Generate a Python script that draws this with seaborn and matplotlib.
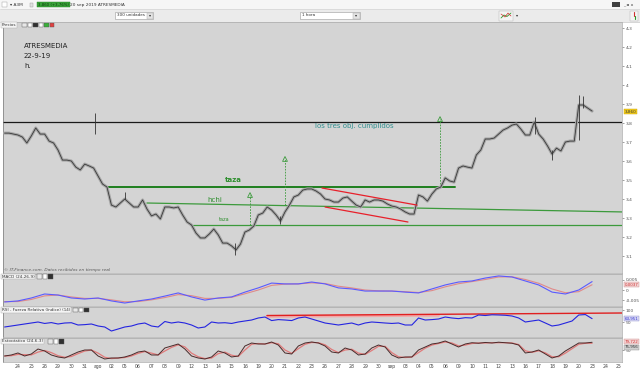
import numpy as np
import matplotlib
matplotlib.use("Agg")
import matplotlib.pyplot as plt
import seaborn as sns
from matplotlib.patches import Rectangle
from matplotlib.ticker import FuncFormatter

# --- datos ---
# cierres horarios muestreados cada 1/3 de sesion, empezando en la sesion -1 (23 jul)
close = [3.747, 3.747, 3.742, 3.737, 3.726, 3.695, 3.732, 3.774, 3.742, 3.742,
         3.705, 3.695, 3.658, 3.605, 3.605, 3.600, 3.568, 3.553, 3.584, 3.574,
         3.563, 3.521, 3.479, 3.463, 3.368, 3.358, 3.379, 3.400, 3.379, 3.358,
         3.358, 3.395, 3.347, 3.311, 3.321, 3.295, 3.358, 3.358, 3.353, 3.358,
         3.316, 3.279, 3.263, 3.221, 3.195, 3.195, 3.216, 3.242, 3.211, 3.168,
         3.168, 3.153, 3.132, 3.163, 3.226, 3.237, 3.258, 3.316, 3.326, 3.358,
         3.342, 3.316, 3.284, 3.332, 3.368, 3.411, 3.421, 3.447, 3.453, 3.453,
         3.442, 3.426, 3.400, 3.395, 3.384, 3.384, 3.405, 3.411, 3.389, 3.368,
         3.358, 3.395, 3.384, 3.395, 3.395, 3.389, 3.374, 3.363, 3.358, 3.347,
         3.332, 3.321, 3.321, 3.421, 3.411, 3.389, 3.426, 3.453, 3.463, 3.511,
         3.495, 3.489, 3.563, 3.574, 3.568, 3.563, 3.632, 3.658, 3.716, 3.716,
         3.721, 3.742, 3.763, 3.774, 3.789, 3.795, 3.768, 3.737, 3.737, 3.805,
         3.742, 3.716, 3.679, 3.637, 3.668, 3.653, 3.700, 3.705, 3.705, 3.895,
         3.895, 3.879, 3.863]

# mechas destacadas (sesion, minimo, maximo)
wick_t = [5.77, 8.0, 16.25, 19.6, 38.73, 40.0, 42.0, 42.3]
wick_lo = [3.74, 3.40, 3.105, 3.27, 3.74, 3.605, 3.71, 3.88]
wick_hi = [3.853, 3.437, 3.17, 3.31, 3.832, 3.66, 3.947, 3.942]

# lineas dibujadas por el autor: (inicio, fin, valor inicio, valor fin)
resistencia = 3.805
taza_sup = (6.67, 32.73, 3.463, 3.463)
hchi = (9.66, 45.24, 3.379, 3.332)
taza_inf = (13.11, 45.24, 3.261, 3.261)
canal_sup = (22.77, 29.89, 3.458, 3.368)
canal_inf = (23.0, 29.21, 3.358, 3.279)

# objetivos (flechas verdes)
obj_t = [17.38, 20.0, 31.61]
obj_lo = [3.261, 3.368, 3.463]
obj_hi = [3.421, 3.611, 3.821]

precio_actual = 3.860

# MACD (24-26-9), una muestra por sesion
macd = [-0.0057, -0.0052, -0.0038, -0.0019, -0.0024, -0.0038, -0.0043, -0.0038, -0.0052, -0.0062,
        -0.0052, -0.0043, -0.0029, -0.0014, -0.0033, -0.0048, -0.0038, -0.0033, -0.0010, 0.0010,
        0.0033, 0.0029, 0.0029, 0.0038, 0.0029, 0.0010, 0.0005, -0.0005, -0.0005, -0.0005,
        -0.0010, -0.0014, 0.0005, 0.0024, 0.0038, 0.0043, 0.0057, 0.0067, 0.0062, 0.0043,
        0.0024, -0.0010, -0.0019, 0.0000, 0.0040]
senal = [-0.0055, -0.0055, -0.0045, -0.0028, -0.0024, -0.0033, -0.0040, -0.0040, -0.0047, -0.0056,
         -0.0055, -0.0047, -0.0036, -0.0022, -0.0027, -0.0040, -0.0040, -0.0035, -0.0018, 0.0000,
         0.0022, 0.0028, 0.0029, 0.0034, 0.0031, 0.0018, 0.0010, 0.0000, -0.0004, -0.0005,
         -0.0008, -0.0012, -0.0003, 0.0015, 0.0030, 0.0040, 0.0050, 0.0062, 0.0063, 0.0050,
         0.0032, 0.0005, -0.0013, -0.0008, 0.0025]

# RSI (14) y estocastico (24-6-3), dos muestras por sesion
rsi = [29.2, 33.3, 37.5, 41.7, 45.8, 50.0, 44.0, 47.5, 41.7, 45.8,
       47.0, 37.5, 39.0, 41.7, 33.3, 29.2, 12.5, 20.8, 29.2, 33.3,
       41.7, 45.8, 33.3, 29.2, 52.0, 45.8, 50.0, 45.8, 37.5, 25.0,
       29.2, 50.0, 45.8, 47.0, 44.0, 50.0, 54.2, 58.3, 66.7, 70.8,
       56.0, 60.0, 58.3, 56.0, 66.7, 70.8, 62.5, 54.2, 45.8, 41.7,
       37.5, 41.7, 45.8, 37.5, 45.8, 50.0, 48.0, 45.8, 44.0, 45.8,
       37.5, 37.5, 66.7, 58.3, 60.0, 62.5, 70.8, 66.7, 64.0, 68.0,
       66.7, 79.2, 77.0, 80.0, 79.2, 78.0, 75.0, 66.7, 50.0, 54.2,
       58.3, 45.8, 33.3, 37.5, 45.8, 54.2, 79.2, 81.0, 63.951]
rsi_tend = (18.65, 45.24, 77.0, 87.5)
rsi_banda = (18.65, 31.5, 73.0, 78.0)

estoc_k = [26.9, 30.8, 38.5, 26.9, 34.6, 53.8, 46.2, 30.8, 23.1, 19.2,
           30.8, 42.3, 50.0, 50.0, 26.9, 15.4, 19.2, 19.2, 23.1, 30.8,
           42.3, 46.2, 30.8, 30.8, 57.7, 65.4, 73.1, 53.8, 26.9, 19.2,
           15.4, 23.1, 46.2, 38.5, 23.1, 26.9, 65.4, 76.9, 73.1, 73.1,
           80.8, 69.2, 38.5, 34.6, 65.4, 76.9, 80.8, 76.9, 65.4, 42.3,
           38.5, 57.7, 50.0, 30.8, 34.6, 57.7, 69.2, 61.5, 30.8, 19.2,
           23.1, 23.1, 50.0, 61.5, 73.1, 76.9, 84.6, 73.1, 61.5, 73.1,
           78.0, 76.0, 79.0, 77.0, 80.0, 78.0, 76.0, 69.2, 38.5, 42.3,
           50.0, 34.6, 19.2, 26.9, 46.2, 61.5, 76.9, 76.9, 79.722]
estoc_d = [27.0, 28.0, 33.0, 32.0, 31.0, 42.0, 48.0, 40.0, 28.0, 22.0,
           25.0, 36.0, 46.0, 50.0, 38.0, 22.0, 17.0, 19.0, 21.0, 27.0,
           37.0, 44.0, 38.0, 31.0, 46.0, 60.0, 70.0, 62.0, 38.0, 24.0,
           17.0, 19.0, 36.0, 42.0, 30.0, 25.0, 50.0, 72.0, 75.0, 73.0,
           78.0, 74.0, 50.0, 37.0, 55.0, 72.0, 79.0, 78.0, 70.0, 52.0,
           40.0, 50.0, 53.0, 38.0, 33.0, 48.0, 64.0, 64.0, 40.0, 24.0,
           21.0, 23.0, 40.0, 57.0, 69.0, 75.0, 81.0, 77.0, 66.0, 69.0,
           75.0, 77.0, 77.0, 78.0, 78.0, 78.0, 77.0, 71.0, 47.0, 41.0,
           47.0, 39.0, 24.0, 24.0, 38.0, 55.0, 72.0, 76.0, 75.956]

dias = ['24', '25', '26', '29', '30', '31', 'ago', '02', '05', '06', '07', '08', '09',
        '12', '13', '14', '15', '16', '19', '20', '21', '22', '23', '26', '27', '28',
        '29', '30', 'sep', '03', '04', '05', '06', '09', '10', '11', '12', '13', '16',
        '17', '18', '19', '20', '23', '24', '25']

# posiciones en sesiones
t_precio = np.arange(len(close)) / 3 - 1
t_macd = np.arange(len(macd)) - 1
t_osc = np.arange(len(rsi)) / 2 - 1

# --- estilo ---
sns.set_theme(style="white")
plt.rcParams['font.family'] = ['DejaVu Sans']

GRIS = '#d4d4d4'
VERDE = '#2f8f2f'
W, H = 640, 370
XLIM = (-1.12, 45.24)


def caja(x0, y0, x1, y1):
    return [x0 / W, 1 - y1 / H, (x1 - x0) / W, (y1 - y0) / H]


def coma(v, pos=None):
    return f'{v:g}'.replace('.', ',')


fig = plt.figure(figsize=(6.4, 3.7), dpi=100, facecolor='white')

ax = fig.add_axes(caja(3, 22, 622, 273))
ax_macd = fig.add_axes(caja(3, 274, 622, 306))
ax_rsi = fig.add_axes(caja(3, 307, 622, 337))
ax_est = fig.add_axes(caja(3, 338, 622, 362))

for a in (ax, ax_macd, ax_rsi, ax_est):
    a.set_facecolor(GRIS)
    a.set_xlim(*XLIM)
    a.yaxis.tick_right()
    a.tick_params(axis='y', length=1.5, width=0.4, labelsize=3.2, pad=1, colors='#555555')
    a.tick_params(axis='x', length=0, labelsize=3.3, pad=1.5, colors='#444444')
    a.set_xticks([])
    for s in a.spines.values():
        s.set_color('#a8a8a8')
        s.set_linewidth(0.5)
    a.spines['left'].set_color('#777777')
    a.set_xlabel('')
    a.set_ylabel('')

# --- panel de precios ---
ax.set_ylim(3.0105, 4.332)
ax.set_yticks(np.round(np.arange(3.1, 4.35, 0.1), 1))
ax.yaxis.set_major_formatter(FuncFormatter(coma))

ax.axhline(resistencia, color='#1a1a1a', lw=0.9, zorder=2)
for (t0, t1, v0, v1), lw, col in [(taza_sup, 1.4, '#1f7f1f'), (hchi, 0.9, '#3c9a3c'),
                                  (taza_inf, 0.9, '#3c9a3c')]:
    ax.plot([t0, t1], [v0, v1], color=col, lw=lw, zorder=2)
for t0, t1, v0, v1 in (canal_sup, canal_inf):
    ax.plot([t0, t1], [v0, v1], color='#e8202a', lw=0.9, zorder=4)

ax.vlines(obj_t, obj_lo, obj_hi, colors='#3c9a3c', lw=0.6, linestyles=(0, (2, 1.5)), zorder=2)
ax.scatter(obj_t, obj_hi, marker='^', s=12, facecolors='none', edgecolors='#3c9a3c',
           linewidths=0.6, zorder=3)

sns.lineplot(x=t_precio, y=close, ax=ax, color='#a6a6a6', linewidth=2.2, sort=False,
             estimator=None, zorder=3)
sns.lineplot(x=t_precio, y=close, ax=ax, color='#383838', linewidth=0.6, sort=False,
             estimator=None, zorder=3)
ax.vlines(wick_t, wick_lo, wick_hi, colors='#333333', lw=0.6, zorder=3)

ax.text(0.45, 4.205, 'ATRESMEDIA', fontsize=5, color='#222222', va='center')
ax.text(0.45, 4.153, '22-9-19', fontsize=5, color='#222222', va='center')
ax.text(0.45, 4.100, 'h.', fontsize=5, color='#222222', va='center')
ax.text(25.2, 3.787, 'los tres obj. cumplidos', fontsize=5, color='#2f8f8f',
        ha='center', va='center')
ax.text(16.1, 3.50, 'taza', fontsize=5, color=VERDE, ha='center', va='center', fontweight='bold')
ax.text(14.72, 3.395, 'hchi', fontsize=5, color=VERDE, ha='center', va='center')
ax.text(15.43, 3.29, 'taza', fontsize=3.6, color=VERDE, ha='center', va='center')

ax.text(1.004, precio_actual, coma(precio_actual) + '0', transform=ax.get_yaxis_transform(),
        fontsize=3.0, color='#333333', va='center', ha='left',
        bbox=dict(boxstyle='square,pad=0.15', fc='#f2cc1e', ec='#c8a000', lw=0.3))
ax.text(0.001, 0.005, '© IT-Finance.com. Datos recibidos en tiempo real', transform=ax.transAxes,
        fontsize=3.1, color='#555555', style='italic', va='bottom')

# --- MACD ---
ax_macd.set_ylim(-0.00762, 0.00762)
ax_macd.set_yticks([-0.005, 0, 0.005])
ax_macd.yaxis.set_major_formatter(FuncFormatter(coma))
sns.lineplot(x=t_macd, y=senal, ax=ax_macd, color='#e08a8a', linewidth=0.8, sort=False, estimator=None)
sns.lineplot(x=t_macd, y=macd, ax=ax_macd, color='#5a5aff', linewidth=0.8, sort=False, estimator=None)
ax_macd.text(1.004, 0.0026, '0,0037', transform=ax_macd.get_yaxis_transform(), fontsize=2.9,
             color='#cc3333', va='center', bbox=dict(boxstyle='square,pad=0.1', fc='#f3d4d4',
                                                     ec='#cc8888', lw=0.3))

# --- RSI ---
ax_rsi.set_ylim(-12.5, 112.5)
ax_rsi.set_yticks([50, 100])
ax_rsi.plot(rsi_banda[:2], rsi_banda[2:], color='#f2a8a8', lw=2.0, zorder=2)
ax_rsi.plot(rsi_tend[:2], rsi_tend[2:], color='#e02020', lw=1.0, zorder=3)
sns.lineplot(x=t_osc, y=rsi, ax=ax_rsi, color='#2424e0', linewidth=0.8, sort=False,
             estimator=None, zorder=4)
ax_rsi.text(1.004, rsi[-1], coma(rsi[-1]), transform=ax_rsi.get_yaxis_transform(), fontsize=2.9,
            color='#3333cc', va='center', bbox=dict(boxstyle='square,pad=0.1', fc='#d8d8f4',
                                                    ec='#8888cc', lw=0.3))

# --- Estocastico ---
ax_est.set_ylim(3.8, 96.2)
ax_est.set_yticks([50])
sns.lineplot(x=t_osc, y=estoc_d, ax=ax_est, color='#e07a7a', linewidth=0.9, sort=False, estimator=None)
sns.lineplot(x=t_osc, y=estoc_k, ax=ax_est, color='#4a2a2a', linewidth=0.7, sort=False, estimator=None)
ax_est.text(1.004, 0.84, coma(estoc_k[-1]), transform=ax_est.transAxes, fontsize=2.9,
            color='#cc3333', va='center', bbox=dict(boxstyle='square,pad=0.1', fc='#f3d4d4',
                                                    ec='#cc8888', lw=0.3))
ax_est.text(1.004, 0.62, coma(estoc_d[-1]), transform=ax_est.transAxes, fontsize=2.9,
            color='#333333', va='center', bbox=dict(boxstyle='square,pad=0.1', fc='#d0d0d0',
                                                    ec='#888888', lw=0.3))
ax_est.set_xticks(range(len(dias)))
ax_est.set_xticklabels(dias)

# --- cabecera y etiquetas de la plataforma ---
ov = fig.add_axes([0, 0, 1, 1])
ov.set_xlim(0, W)
ov.set_ylim(H, 0)
ov.axis('off')
ov.patch.set_alpha(0)

ov.add_patch(Rectangle((0, 0), W, 9, fc='#f6f6f6', ec='none'))
ov.add_patch(Rectangle((0, 9), W, 13, fc='#ebebeb', ec='none'))
ov.plot([0, W], [9, 9], color='#d0d0d0', lw=0.4)
ov.plot([0, W], [22, 22], color='#b8b8b8', lw=0.4)

ov.add_patch(Rectangle((2, 2), 5, 5, fc='white', ec='#999999', lw=0.3))
ov.text(10, 4.6, '▾ A3M', fontsize=3.1, color='#333333', va='center')
ov.add_patch(Rectangle((30, 2.5), 3, 4, fc='#e0e0e0', ec='#999999', lw=0.3))
ov.text(38, 4.6, '3,860 (+3,76%)', fontsize=2.8, color='#0a3a0a', va='center',
        bbox=dict(boxstyle='square,pad=0.2', fc='#3aa43a', ec='#1f7f1f', lw=0.3))
ov.text(70, 4.6, '20 sep 2019 ATRESMEDIA', fontsize=3.1, color='#333333', va='center')
ov.add_patch(Rectangle((612, 2), 8, 5, fc='#404040', ec='none'))
ov.text(623, 4.6, '_ ▫ x', fontsize=3.1, color='#333333', va='center')

ov.add_patch(Rectangle((115, 12), 38, 7, fc='white', ec='#9a9a9a', lw=0.4))
ov.add_patch(Rectangle((147, 12.5), 5.5, 6, fc='#e4e4e4', ec='#aaaaaa', lw=0.3))
ov.text(117, 15.5, '300 unidades', fontsize=3.0, color='#333333', va='center')
ov.text(149.7, 15.5, '▾', fontsize=3.0, color='#333333', va='center', ha='center')
ov.add_patch(Rectangle((300, 12), 60, 7, fc='white', ec='#9a9a9a', lw=0.4))
ov.add_patch(Rectangle((353, 12.5), 6.5, 6, fc='#e4e4e4', ec='#aaaaaa', lw=0.3))
ov.text(302, 15.5, '1 hora', fontsize=3.0, color='#333333', va='center')
ov.text(356.2, 15.5, '▾', fontsize=3.0, color='#333333', va='center', ha='center')
ov.add_patch(Rectangle((499, 10.5), 14, 10, fc='#f4f4f4', ec='#b0b0b0', lw=0.3))
ov.plot([501, 504, 507, 511], [18, 15, 16.5, 13], color='#2a9a2a', lw=0.6)
ov.plot([501, 505, 508, 511], [14, 17, 13, 16], color='#d03030', lw=0.5)
ov.text(516, 15.5, '▾', fontsize=3.0, color='#333333', va='center')
ov.add_patch(Rectangle((630, 10.5), 8, 10, fc='#f4f4f4', ec='#b0b0b0', lw=0.3))
ov.plot([634, 634], [12, 15.5], color='#d03030', lw=0.8)
ov.plot([635, 635], [15.5, 19], color='#2a9a2a', lw=0.8)

etiqueta = dict(fontsize=3.0, color='#333333', va='center',
                bbox=dict(boxstyle='square,pad=0.15', fc='#f4f4f4', ec='#aaaaaa', lw=0.3))
for x0, y0, txt in [(2, 25, 'Precios'), (2, 276.5, 'MACD (24-26-9)'),
                    (2, 310, 'RSI - Fuerza Relativa (índice) (14)'),
                    (2, 341.5, 'Estocástico (24-6-3)')]:
    ov.text(x0, y0, txt, **etiqueta)

# iconos de las etiquetas
for x0, y0, n in [(22, 25, 6), (37, 276.5, 3), (73, 310, 3), (48, 341.5, 3)]:
    cols = ['#e8e8e8', '#ffffff', '#303030', '#ffffff', '#3ab03a', '#e04040'][:n]
    for i, c in enumerate(cols):
        ov.add_patch(Rectangle((x0 + i * 5.5, y0 - 2.3), 4.5, 4.6, fc=c, ec='#555555', lw=0.3))

fig.savefig('out.png', dpi=100, facecolor=fig.get_facecolor())
